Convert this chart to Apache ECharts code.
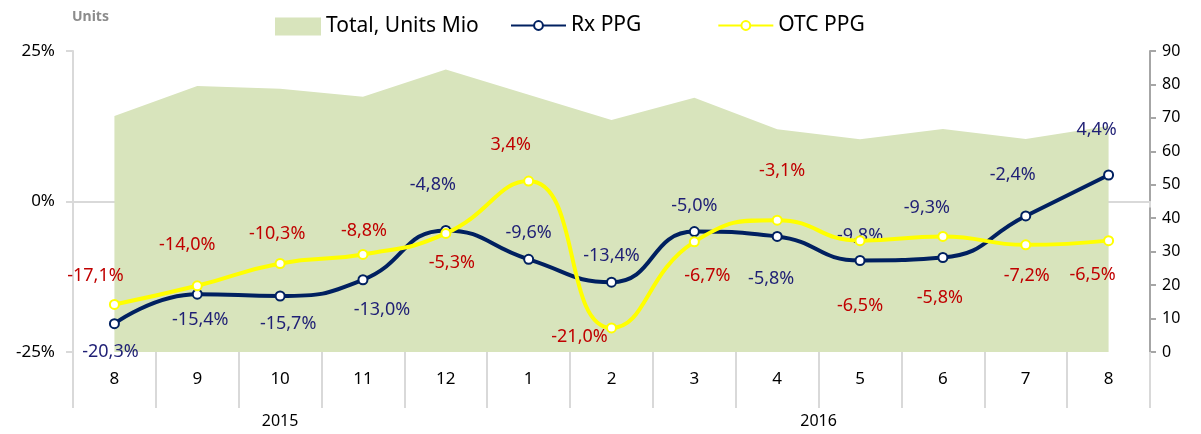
<!DOCTYPE html>
<html>
<head>
<meta charset="utf-8">
<script src="https://cdn.jsdelivr.net/npm/echarts@6/dist/echarts.min.js"></script>
<style>
html,body{margin:0;padding:0;background:#fff;}
#chart{width:1201px;height:434px;}
</style>
</head>
<body>
<div id="chart"></div>
<script>
// ---- data ----
var months = ['8','9','10','11','12','1','2','3','4','5','6','7','8'];
var years = ['2015','2016'];
var yearMonthCounts = [5, 8];
var totalUnits = [70.6, 79.5, 78.7, 76.3, 84.5, 76.9, 69.4, 76.0, 66.6, 63.6, 66.7, 63.7, 67.6];
var rxPPG = [-20.3, -15.4, -15.7, -13.0, -4.8, -9.6, -13.4, -5.0, -5.8, -9.8, -9.3, -2.4, 4.4];
var otcPPG = [-17.1, -14.0, -10.3, -8.8, -5.3, 3.4, -21.0, -6.7, -3.1, -6.5, -5.8, -7.2, -6.5];
var leftTicks = [-25, 0, 25];
var rightTicks = [0, 90, 10]; // min, max, interval

// ---- label placement (styling only) ----
var rxLabelOffsets = [[-4,28],[3,26],[8,28],[19,30],[-13,-46],[0,-26],[0,-26],[0,-26],[-6,42],[0,-25],[-16,-50],[-13,-41],[-12,-45]];
var otcLabelOffsets = [[-19,-29],[-10,-41],[-3,-30],[1,-24],[6,29],[-18,-36],[-32,9],[13,34],[5,-49],[0,65],[-3,61],[1,31],[-16,34]];

var FONT = 'Noto Sans';
function pct(v){ return v.toFixed(1).replace('.', ',') + '%'; }

function withLabels(vals, offs, color){
  return vals.map(function(v, i){
    return {
      value: v,
      label: { show: true, position: 'inside', offset: offs[i], formatter: pct(v),
               color: color, fontSize: 18, fontFamily: FONT }
    };
  });
}

// year axis: boundaries and centres in month-units
var yearBounds = [0], yearCenters = [], acc = 0;
yearMonthCounts.forEach(function(c){ yearCenters.push(acc + c/2); acc += c; yearBounds.push(acc); });

var chart = echarts.init(document.getElementById('chart'));
chart.setOption({
  animation: false,
  textStyle: { fontFamily: FONT },
  title: { text: 'Units', left: 67, top: 5,
           textStyle: { fontSize: 14, fontWeight: 'bold', color: '#8c8c8c', fontFamily: FONT } },
  legend: [
    { data: [{ name: 'Total, Units Mio', icon: 'rect' }], left: 270, top: 11,
      itemWidth: 46, itemHeight: 18, itemGap: 6,
      textStyle: { fontSize: 21, color: '#000', fontFamily: FONT } },
    { data: ['Rx PPG', 'OTC PPG'], left: 505, top: 10, itemWidth: 55, itemHeight: 11, itemGap: 76,
      textStyle: { fontSize: 21, color: '#000', fontFamily: FONT } }
  ],
  grid: { left: 73, right: 51, top: 51, bottom: 82, containLabel: false },
  xAxis: [
    { type: 'category', data: months, position: 'bottom', boundaryGap: true,
      axisLine: { show: false, onZero: false },
      axisTick: { show: true, interval: 0, alignWithLabel: false, length: 56,
                  lineStyle: { color: '#d9d9d9', width: 2 } },
      axisLabel: { interval: 0, margin: 19, fontSize: 17, color: '#000', fontFamily: FONT },
      splitLine: { show: false } },
    { type: 'category', data: months, position: 'bottom', boundaryGap: true,
      axisLine: { show: true, onZero: true, onZeroAxisIndex: 0, lineStyle: { color: '#d9d9d9', width: 2 } },
      axisTick: { show: true, interval: 0, alignWithLabel: false, length: 6,
                  lineStyle: { color: '#d9d9d9', width: 2 } },
      axisLabel: { show: false }, splitLine: { show: false } },
    { type: 'value', min: 0, max: months.length, position: 'bottom', offset: 56,
      axisLine: { show: false },
      axisTick: { show: true, customValues: yearBounds, length: 26,
                  lineStyle: { color: '#d9d9d9', width: 2 } },
      axisLabel: { show: true, customValues: yearCenters, margin: 5, fontSize: 16, color: '#000',
                   fontFamily: FONT,
                   formatter: function(v){ var i = yearCenters.indexOf(v); return i >= 0 ? years[i] : ''; } },
      splitLine: { show: false } }
  ],
  yAxis: [
    { type: 'value', min: leftTicks[0], max: leftTicks[2], interval: leftTicks[2] - leftTicks[1], position: 'left',
      axisLine: { show: true, lineStyle: { color: '#d9d9d9', width: 2 } },
      axisTick: { show: true, length: 7, lineStyle: { color: '#d9d9d9', width: 2 } },
      axisLabel: { margin: 18, fontSize: 17, color: '#000', fontFamily: FONT,
                   formatter: function(v){ return v + '%'; } },
      splitLine: { show: false } },
    { type: 'value', min: rightTicks[0], max: rightTicks[1], interval: rightTicks[2], position: 'right',
      axisLine: { show: true, lineStyle: { color: '#a6a6a6', width: 2 } },
      axisTick: { show: true, length: 6, lineStyle: { color: '#a6a6a6', width: 2 } },
      axisLabel: { margin: 12, fontSize: 16, color: '#000', fontFamily: FONT },
      splitLine: { show: false } }
  ],
  series: [
    { name: 'Total, Units Mio', type: 'line', xAxisIndex: 0, yAxisIndex: 1, data: totalUnits,
      symbol: 'none', lineStyle: { width: 0 }, itemStyle: { color: '#d8e4bc' },
      areaStyle: { color: '#d8e4bc', opacity: 1 }, z: 1 },
    { name: 'Rx PPG', type: 'line', xAxisIndex: 0, yAxisIndex: 0,
      data: withLabels(rxPPG, rxLabelOffsets, '#1f1f75'),
      smooth: 0.5, symbol: 'circle', symbolSize: 9,
      lineStyle: { color: '#002060', width: 4 },
      itemStyle: { color: '#ffffff', borderColor: '#002060', borderWidth: 2 }, z: 3 },
    { name: 'OTC PPG', type: 'line', xAxisIndex: 0, yAxisIndex: 0,
      data: withLabels(otcPPG, otcLabelOffsets, '#c00000'),
      smooth: 0.5, symbol: 'circle', symbolSize: 9,
      lineStyle: { color: '#ffff00', width: 4 },
      itemStyle: { color: '#ffffff', borderColor: '#ffff00', borderWidth: 2 }, z: 4 }
  ]
});
</script>
</body>
</html>
